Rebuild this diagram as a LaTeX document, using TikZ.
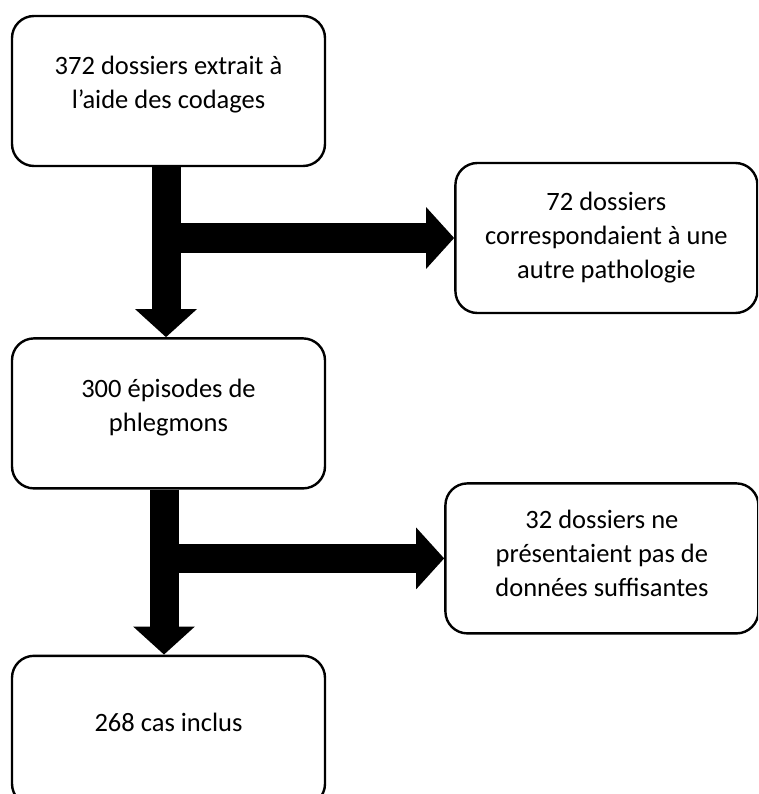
\documentclass[tikz,border=0pt]{standalone}
\usepackage{fontspec}
\setmainfont{Carlito}
\usetikzlibrary{positioning, arrows.meta, calc}
\tikzset{
x=1pt, y=1pt,
node distance=170pt,
box/.style={draw, line width=2.4pt, rounded corners=22pt,
    minimum width=313pt, minimum height=150pt, align=center,
    font=\fontsize{26.5}{34}\selectfont},
bigarrow/.style={line width=29pt, -{Triangle[width=60pt,length=28pt]}},
}

\begin{document}
\begin{tikzpicture}
            \clip (0,0) rectangle (758,-794);

            % Boxes
            \node[box] (b1) at (168.5,-91) {372 dossiers extrait à\\l’aide des codages\\[-17pt]};
            \node[box, below=170pt of b1] (b3) {300 épisodes de\\phlegmons\\[-17pt]};
            \node[box, below=165pt of b3] (b5) {268 cas inclus\\[-17pt]};
            \node[box, minimum width=302pt, right=128pt of b1, yshift=-147pt] (b2) {72 dossiers\\correspondaient à une\\autre pathologie};
            \node[box, right=118pt of b3, yshift=-145pt] (b4) {32 dossiers ne\\présentaient pas de\\données suffisantes\\[-24pt]};

            % Arrows from b1
            \draw[bigarrow] ([xshift=-2.5pt]b1.south) -- ([xshift=-2.5pt]b1.south |- b3.north);
            \draw[bigarrow] ([xshift=-2.5pt]b1.south |- b2.west) -- (b2.west);

            % Arrows from b3
            \draw[bigarrow] ([xshift=-4.5pt]b3.south) -- ([xshift=-4.5pt]b3.south |- b5.north);
            \draw[bigarrow] ([xshift=-4.5pt]b3.south |- b4.west) -- (b4.west);
\end{tikzpicture}
\end{document}
